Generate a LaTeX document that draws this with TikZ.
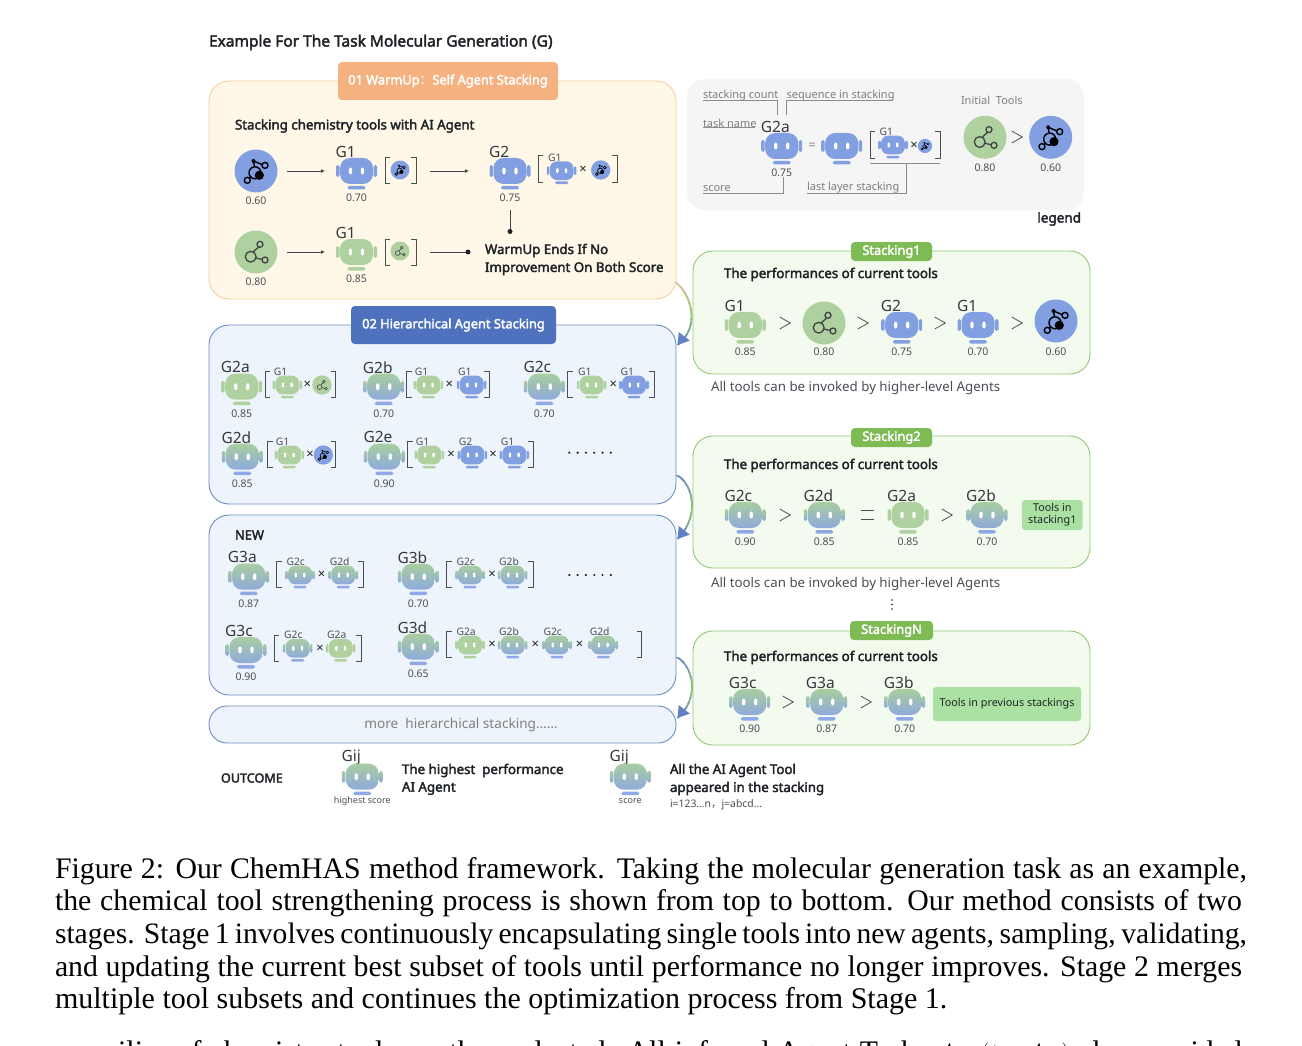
\documentclass[tikz,border=0pt]{standalone}
\usepackage{fontspec}
\setmainfont{Noto Sans}
\newfontfamily\bfam[FakeBold=2.6]{Noto Sans}
\newfontfamily\cjkf{Noto Sans CJK SC}
\newfontfamily\capfont{Liberation Serif}
\usetikzlibrary{calc,arrows.meta}
\definecolor{agblue}{HTML}{829FE2}
\definecolor{aggreen}{HTML}{AFD09F}
\definecolor{mixtop}{HTML}{A8CDA0}
\definecolor{mixbot}{HTML}{8FAADB}
\definecolor{orangefill}{HTML}{FFF7E7}
\definecolor{orangeline}{HTML}{F6CFA0}
\definecolor{orangelab}{HTML}{F5B17F}
\definecolor{bluefill}{HTML}{EEF4FB}
\definecolor{blueline}{HTML}{6C8CC0}
\definecolor{bluelab}{HTML}{4F72BE}
\definecolor{greenfill}{HTML}{F3FBEE}
\definecolor{greenline}{HTML}{93C775}
\definecolor{greenlab}{HTML}{7EBB55}
\definecolor{toolbox}{HTML}{ABE2A4}
\definecolor{ink}{HTML}{1F2327}
\definecolor{soft}{HTML}{4A4F55}
\definecolor{greyline}{HTML}{8C8C8C}
\newcommand\fsz[1]{\fontsize{#1}{#1}\selectfont}
\tikzset{
  every node/.style={inner sep=0pt,outer sep=0pt,text=ink},
  panel/.style={rounded corners=20pt,line width=.9pt},
  tag/.style={rounded corners=4pt,text=white,font=\fsz{12.8}\bfam,align=center},
  head/.style={font=\fsz{13.3}\bfam,anchor=west,yshift=-1.5pt},
  plain/.style={font=\fsz{13.3},text=soft,anchor=west,yshift=-1pt},
  greytext/.style={font=\fsz{11},text=greyline!90!black,anchor=west,yshift=-1pt},
  leader/.style={draw=greyline,line width=.6pt},
  tick/.style={draw=ink!80,line width=.9pt},
  flow/.style={draw=ink!85,line width=.9pt},
  captext/.style={anchor=base west,font=\capfont\fsz{29.8},text=black},
  rb/.style={fill=agblue},
  rg/.style={fill=aggreen},
  rm/.style={top color=mixtop,bottom color=mixbot},
  frb/.style={fill=agblue},
  frg/.style={fill=aggreen},
  frm/.style={fill=agblue!90},
}
% robot: centre, scale, type
\newcommand\robot[4]{%
  \begin{scope}[shift={(#1,#2)},scale=#3]
    \pgfmathsetmacro\rr{10*#3}\pgfmathsetmacro\re{1.6*#3}
    \path[#4,rounded corners=\re pt] (-20.5,-6) rectangle (-17,6);
    \path[#4,rounded corners=\re pt] (17,-6) rectangle (20.5,6);
    \path[#4,rounded corners=\rr pt] (-16.5,-13) rectangle (16.5,13);
    \path[f#4,rounded corners=\re pt] (-9,15) rectangle (9,18.5);
    \fill[white,rounded corners=\re pt] (-7.6,-3.6) rectangle (-4.4,3.6);
    \fill[white,rounded corners=\re pt] (4.4,-3.6) rectangle (7.6,3.6);
  \end{scope}}
% full agent: x y type label score
\newcommand\agent[5]{%
  \node[font=\fsz{15.5},anchor=west,text=ink!90] at (#1-20.8,#2-19.5) {#4};
  \robot{#1}{#2}{1}{#3}
  \node[font=\fsz{10.5},text=soft] at (#1,#2+26.8) {#5};}
% small agent in a bracket
\newcommand\sagent[4]{%
  \node[font=\fsz{10.3},anchor=west,text=soft] at (#1-13.5,#2-13) {#4};
  \robot{#1}{#2}{.72}{#3}}
\newcommand\toolG[3]{%
  \begin{scope}[shift={(#1,#2)},scale=#3]
    \pgfmathsetmacro\lw{1.3*#3}
    \fill[aggreen] (0,0) circle (21.5);
    \draw[ink!85,line width=\lw pt] (-5.3,4.7) circle (5.4) (4,-7.7) circle (3) (9,8) circle (3)
      (-2.7,-.2) -- (2.6,-5) (-.2,6) -- (6.1,7.4);
  \end{scope}}
\newcommand\toolB[3]{%
  \begin{scope}[shift={(#1,#2)},scale=#3]
    \pgfmathsetmacro\lw{1.4*#3}
    \fill[agblue] (0,0) circle (21.5);
    \draw[black,line width=\lw pt] (-1,1.8) circle (6) (9,-5.6) circle (3) (-8.7,9.3) circle (3)
      (-2.5,-10) -- (6.2,-6.4) (-2.5,-10) -- (-1.5,-4) (-6.5,7) -- (-4.5,5.5);
    \fill[black] (3.3,4.3) circle (4.6) (-2.5,-10) circle (2);
  \end{scope}}
\newcommand\brk[4]{% x1 x2 y1 y2
  \draw[tick] (#1+5,#3) -- (#1,#3) -- (#1,#4) -- (#1+5,#4);
  \draw[tick] (#2-5,#3) -- (#2,#3) -- (#2,#4) -- (#2-5,#4);}
\newcommand\gtr[2]{\draw[soft,line width=.8pt] (#1-5.3,#2-6) -- (#1+5.3,#2) -- (#1-5.3,#2+6);}
\newcommand\tms[2]{\node[font=\fsz{13}] at (#1,#2) {×};}
\newcommand\dotsrow[2]{\foreach \i in {0,...,5}{\fill[ink] ({#1+8.3*\i},#2) circle (1.2);}}
% connector with colour ramp
\newcommand\ramp[7]{% start ctrl1 ctrl2 end colour1 colour2 colour3
  \foreach \k in {0,...,11}{%
    \pgfmathsetmacro\pa{\k<6 ? 100-\k*100/6 : 100-(\k-6)*100/5}
    \ifnum\k<6\def\ca{#5}\def\cb{#6}\else\def\ca{#6}\def\cb{#7}\fi
    \begin{scope}
      \path let \p1=(#1),\p2=(#4) in coordinate (clipa) at ({\x1-5},{\y1+(\y2-\y1)*\k/12}) coordinate (clipb) at ({\x1+40},{\y1+(\y2-\y1)*(\k+1.05)/12});
      \clip (clipa) rectangle (clipb);
      \draw[line width=1.8pt,color=\ca!\pa!\cb] (#1) .. controls (#2) and (#3) .. (#4);
    \end{scope}}}
\newcommand\arrowend[1]{\fill[bluelab!90!white,shift={(#1)},rotate=-38] (0,0) -- (-7,-11) -- (7,-11) -- cycle;}
\begin{document}
\begin{tikzpicture}[x=1pt,y=-1pt]
\useasboundingbox (0,0) rectangle (1302,1046);
\fill[white] (0,0) rectangle (1302,1046);

\node[font=\fsz{15.5}\bfam,anchor=west,yshift=-1.5pt] (title) at (209,41) {Example For The Task Molecular Generation (G)};

% ---- panels
\node[panel,draw=orangeline,fill=orangefill,minimum width=467pt,minimum height=218pt] (warm) at (442.5,190) {};
\node[tag,fill=orangelab,minimum width=220pt,minimum height=38pt] (warmtag) at (448,81) {\raisebox{-1pt}{01 WarmUp{\cjkf ：}Self Agent Stacking}};
\node[rounded corners=18pt,fill=black!4,minimum width=397pt,minimum height=131pt] (legendbox) at (885.5,144.5) {};
\node[panel,draw=blueline,fill=bluefill,minimum width=467pt,minimum height=179pt] (hier) at (442.5,414.5) {};
\node[tag,fill=bluelab,minimum width=205pt,minimum height=38pt] (hiertag) at (453.5,325) {\raisebox{-1pt}{02 Hierarchical Agent Stacking}};
\node[panel,draw=blueline,fill=bluefill,minimum width=467pt,minimum height=180pt] (newbox) at (442.5,605) {};
\node[rounded corners=18pt,line width=.9pt,draw=blueline,fill=bluefill,minimum width=467pt,minimum height=37pt,font=\fsz{13.6},text=black!50] (more) at (442.5,724.5) {\hspace*{37pt}\raisebox{-1.5pt}{more\ \ hierarchical stacking……}};
\node[panel,draw=greenline,fill=greenfill,minimum width=397pt,minimum height=123pt] (s1) at (891.5,312.5) {};
\node[panel,draw=greenline,fill=greenfill,minimum width=397pt,minimum height=132pt] (s2) at (891.5,502) {};
\node[panel,draw=greenline,fill=greenfill,minimum width=397pt,minimum height=114pt] (sn) at (891.5,688) {};
\node[tag,fill=greenlab,minimum width=81pt,minimum height=19pt] (s1tag) at (891.5,251.5) {\raisebox{-1pt}{Stacking1}};
\node[tag,fill=greenlab,minimum width=81pt,minimum height=19pt] (s2tag) at (891.5,437.5) {\raisebox{-1pt}{Stacking2}};
\node[tag,fill=greenlab,minimum width=83pt,minimum height=19pt] (sntag) at (891.5,630.5) {\raisebox{-1pt}{StackingN}};

% ---- connectors
\coordinate (c1a) at ($(warm.south east)+(-1,-17)$);
\coordinate (c1b) at ($(hier.north east)+(1.5,20)$);
\coordinate (c2a) at ($(hier.south east)+(0,-29)$);
\coordinate (c2b) at ($(newbox.north east)+(1.5,24)$);
\coordinate (c3a) at ($(newbox.south east)+(0,-38)$);
\coordinate (c3b) at ($(more.north east)+(1.5,12)$);
\ramp{c1a}{$(c1a)+(15,10)$}{$(c1a)+(27,44)$}{c1b}{orangeline!90!black}{greenline}{blueline}
\ramp{c2a}{$(c2a)+(14,5)$}{$(c2a)+(27,38)$}{c2b}{blueline}{greenline}{blueline}
\ramp{c3a}{$(c3a)+(14,5)$}{$(c3a)+(27,38)$}{c3b}{blueline}{greenline}{blueline}
\arrowend{c1b}\arrowend{c2b}\arrowend{c3b}

% ---- warm-up
\node[head] (warmhead) at (235,124.5) {Stacking chemistry tools with AI Agent};
\toolB{256}{171}{1}
\node[font=\fsz{10.5},text=soft] (s060) at (256,201) {0.60};
\coordinate (a1s) at (287,171);\coordinate (a1e) at (325,171);
\draw[flow,-{Latex[length=4pt,width=4pt]}] (a1s) -- (a1e);
\agent{356.5}{171}{rb}{G1}{0.70}
\brk{385}{416}{157}{183}
\toolB{400}{170}{.44}
\coordinate (a2s) at (430,171);\coordinate (a2e) at (469,171);
\draw[flow,-{Latex[length=4pt,width=4pt]}] (a2s) -- (a2e);
\agent{510}{171}{rb}{G2}{0.75}
\brk{538}{617}{155}{182}
\sagent{561.7}{170.7}{rb}{G1}
\tms{583}{170}
\toolB{600.7}{170}{.45}
\coordinate (d1s) at (510,210);\coordinate (d1e) at (510,231.5);
\draw[flow] (d1s) -- (d1e);\fill[ink] (d1e) circle (2.5);
\toolG{256}{252}{1}
\node[font=\fsz{10.5},text=soft] (s080) at (256,282) {0.80};
\coordinate (a3s) at (287,252);\coordinate (a3e) at (325,252);
\draw[flow,-{Latex[length=4pt,width=4pt]}] (a3s) -- (a3e);
\agent{356.5}{252}{rg}{G1}{0.85}
\brk{385}{416}{239}{265}
\toolG{400}{251}{.44}
\coordinate (d2s) at (430,252);\coordinate (d2e) at (468,252);
\draw[flow] (d2s) -- (d2e);\fill[ink] (d2e) circle (2.5);
\node[head] (w1) at (485,249) {WarmUp Ends If No};
\node[head] (w2) at (485,267) {Improvement On Both Score};

% ---- legend
\node[greytext] (lsc) at (703,95) {stacking count};
\node[greytext] (lsq) at (786.7,95) {sequence in stacking};
\node[greytext] (ltn) at (703,122) {task name};
\node[greytext] (lsr) at (703,188) {score};
\node[greytext] (lll) at (807,187) {last layer stacking};
\node[greytext] (lit) at (961,99) {Initial\ \ Tools};
\coordinate (p1) at (703,100.7);\coordinate (p2) at (777,100.7);\coordinate (p3) at (777,114.7);
\draw[leader] (p1) -- (p2) -- (p3);
\coordinate (p4) at (893,100.7);\coordinate (p5) at (786.7,100.7);\coordinate (p6) at (786.7,114.7);
\draw[leader] (p4) -- (p5) -- (p6);
\coordinate (p7) at (703,127.3);\coordinate (p8) at (755,127.3);
\draw[leader] (p7) -- (p8);
\coordinate (p9) at (703,193.3);\coordinate (p10) at (783,193.3);\coordinate (p11) at (783,177);
\draw[leader] (p9) -- (p10) -- (p11);
\coordinate (p12) at (807,193.3);\coordinate (p13) at (906.7,193.3);\coordinate (p14) at (906.7,163.3);
\draw[leader] (p12) -- (p13) -- (p14);
\coordinate (p15) at (870,163.3);\coordinate (p16) at (940,163.3);
\draw[leader] (p15) -- (p16);
\agent{781.7}{146}{rb}{G2a}{0.75}
\node[font=\fsz{13},text=greyline] (legeq) at (812,146) {=};
\robot{841.7}{146}{1}{rb}
\brk{870}{940}{131}{158}
\sagent{893}{145}{rb}{G1}
\tms{914}{146}
\toolB{925}{146}{.33}
\toolG{985}{137.3}{1}
\gtr{1017}{137}
\toolB{1050.7}{137.3}{1}
\node[font=\fsz{10.5},text=soft] (l080) at (985,167.5) {0.80};
\node[font=\fsz{10.5},text=soft] (l060) at (1050.7,167.5) {0.60};
\node[font=\fsz{13.5}\bfam,anchor=east,yshift=-1pt] (leg) at (1081,218) {legend};

% ---- stacking 1
\node[head] (s1h) at (724,273) {The performances of current tools};
\agent{745.3}{325}{rg}{G1}{0.85}
\gtr{785}{323}
\toolG{824}{323}{1}
\node[font=\fsz{10.5},text=soft] (s1b) at (824,351.8) {0.80};
\gtr{863}{323}
\agent{901.7}{325}{rb}{G2}{0.75}
\gtr{940}{323}
\agent{978}{325}{rb}{G1}{0.70}
\gtr{1017}{323}
\toolB{1056}{321}{1}
\node[font=\fsz{10.5},text=soft] (s1c) at (1056,351.8) {0.60};
\node[plain] (s1t) at (711,387) {All tools can be invoked by higher-level Agents};

% ---- stacking 2
\node[head] (s2h) at (724,464) {The performances of current tools};
\agent{745.3}{515}{rm}{G2c}{0.90}
\gtr{785}{515}
\agent{824.3}{515}{rm}{G2d}{0.85}
\draw[soft,line width=.8pt] (860.5,510) -- (873.5,510) (860.5,519) -- (873.5,519);
\agent{908}{515}{rg}{G2a}{0.85}
\gtr{947}{515}
\agent{987}{515}{rm}{G2b}{0.70}
\node[fill=toolbox,rounded corners=3pt,minimum width=60.7pt,minimum height=30pt,font=\fsz{10.8},align=center] (tis1) at (1052.3,515) {Tools in\\[1pt]stacking1};
\node[plain] (s2t) at (711,583) {All tools can be invoked by higher-level Agents};
\fill[ink] (892,600) circle (.9) (892,604.5) circle (.9) (892,609) circle (.9);

% ---- stacking N
\node[head] (snh) at (724,656) {The performances of current tools};
\agent{749.7}{702}{rm}{G3c}{0.90}
\gtr{788}{702}
\agent{826.7}{702}{rm}{G3a}{0.87}
\gtr{866}{702}
\agent{904.7}{702}{rm}{G3b}{0.70}
\node[fill=toolbox,rounded corners=3pt,minimum width=148pt,minimum height=34pt,font=\fsz{10.8}] (tisn) at (1007,704) {Tools in previous stackings};

% ---- hierarchical
\agent{241.7}{386.7}{rg}{G2a}{0.85}
\brk{265}{335.7}{371}{397.3}
\sagent{287.3}{385}{rg}{G1}
\tms{307.3}{385}
\toolG{322}{385}{.45}
\agent{383.7}{386.7}{rm}{G2b}{0.70}
\brk{406.7}{489.3}{371}{397.3}
\sagent{428.3}{385}{rg}{G1}
\tms{449.3}{385}
\sagent{471.7}{385}{rb}{G1}
\agent{544.3}{386.7}{rm}{G2c}{0.70}
\brk{567.7}{654.3}{371}{397.3}
\sagent{591.7}{385}{rg}{G1}
\tms{613.3}{385}
\sagent{634}{385}{rb}{G1}
\agent{242.3}{456.7}{rm}{G2d}{0.85}
\brk{267.7}{335.7}{441}{467.7}
\sagent{289.3}{455}{rg}{G1}
\tms{310}{455}
\toolB{323.3}{455}{.45}
\agent{384.3}{456.7}{rm}{G2e}{0.90}
\brk{407.7}{533.3}{441}{467.7}
\sagent{429.3}{455}{rg}{G1}
\tms{451}{455}
\sagent{472.3}{455}{rb}{G2}
\tms{493}{455}
\sagent{514.3}{455}{rb}{G1}
\dotsrow{569.3}{452.7}

% ---- new
\node[font=\fsz{12.9}\bfam,anchor=west,yshift=-1pt] (newl) at (235,534) {NEW};
\agent{248.7}{576.7}{rm}{G3a}{0.87}
\brk{276.7}{363.3}{561.7}{587.7}
\sagent{300}{575}{rm}{G2c}
\tms{321.7}{575}
\sagent{343.3}{575}{rm}{G2d}
\agent{418.3}{576.7}{rm}{G3b}{0.70}
\brk{446.7}{533.3}{561.7}{587.7}
\sagent{470}{575}{rm}{G2c}
\tms{492}{575}
\sagent{512.7}{575}{rm}{G2b}
\dotsrow{569.3}{575}
\agent{246}{650}{rm}{G3c}{0.90}
\brk{274}{361}{635}{661}
\sagent{297.7}{648.3}{rm}{G2c}
\tms{320}{648.3}
\sagent{340.7}{648.3}{rg}{G2a}
\agent{418.3}{646.7}{rm}{G3d}{0.65}
\brk{446.7}{641.7}{631.7}{657.7}
\sagent{470}{645}{rg}{G2a}
\tms{492}{645}
\sagent{512.7}{645}{rm}{G2b}
\tms{535.3}{645}
\sagent{557}{645}{rm}{G2c}
\tms{579.7}{645}
\sagent{603.3}{645}{rm}{G2d}

% ---- outcome
\node[font=\fsz{12.6}\bfam,anchor=west,yshift=-.5pt] (oc) at (221,777.5) {OUTCOME};
\agent{362.3}{776.7}{rm}{Gij}{}
\node[font=\fsz{9},text=soft] (hs) at (362.3,800.7) {highest score};
\node[head] (o1) at (402,769) {The highest\ \ performance};
\node[head] (o2) at (402,787) {AI Agent};
\agent{630.3}{776.7}{rm}{Gij}{}
\node[font=\fsz{9},text=soft] (sc) at (630.3,800.7) {score};
\node[head] (o3) at (670,769) {All the AI Agent Tool};
\node[head] (o4) at (670,787) {appeared in the stacking};
\node[font=\fsz{10.4},text=soft,anchor=west] (o5) at (670,804.5) {i=123…n{\cjkf ，}j=abcd…};

% ---- caption
\node[captext] (cap1) at (55,878) {\makebox[1192pt][s]{Figure 2: Our ChemHAS method framework. Taking the molecular generation task as an example,}};
\node[captext] (cap2) at (55,910.5) {\makebox[1187pt][s]{the chemical tool strengthening process is shown from top to bottom. Our method consists of two}};
\node[captext,font=\capfont\fsz{29.6}] (cap3) at (55,943) {\makebox[1192pt][s]{stages. Stage 1 involves continuously encapsulating single tools into new agents, sampling, validating,}};
\node[captext] (cap4) at (55,976) {\makebox[1187pt][s]{and updating the current best subset of tools until performance no longer improves. Stage 2 merges}};
\node[captext,font=\capfont\fsz{30}] (cap5) at (55,1008.5) {multiple tool subsets and continues the optimization process from Stage 1.};
\node[captext] (cap6) at (95,1061) {\makebox[1147pt][s]{milies of chemistry tools are then selected. All inferred Agent Tasks $A_{ij}$ $(t_{ij}, A_{ij})$ also provided}};
\end{tikzpicture}
\end{document}
